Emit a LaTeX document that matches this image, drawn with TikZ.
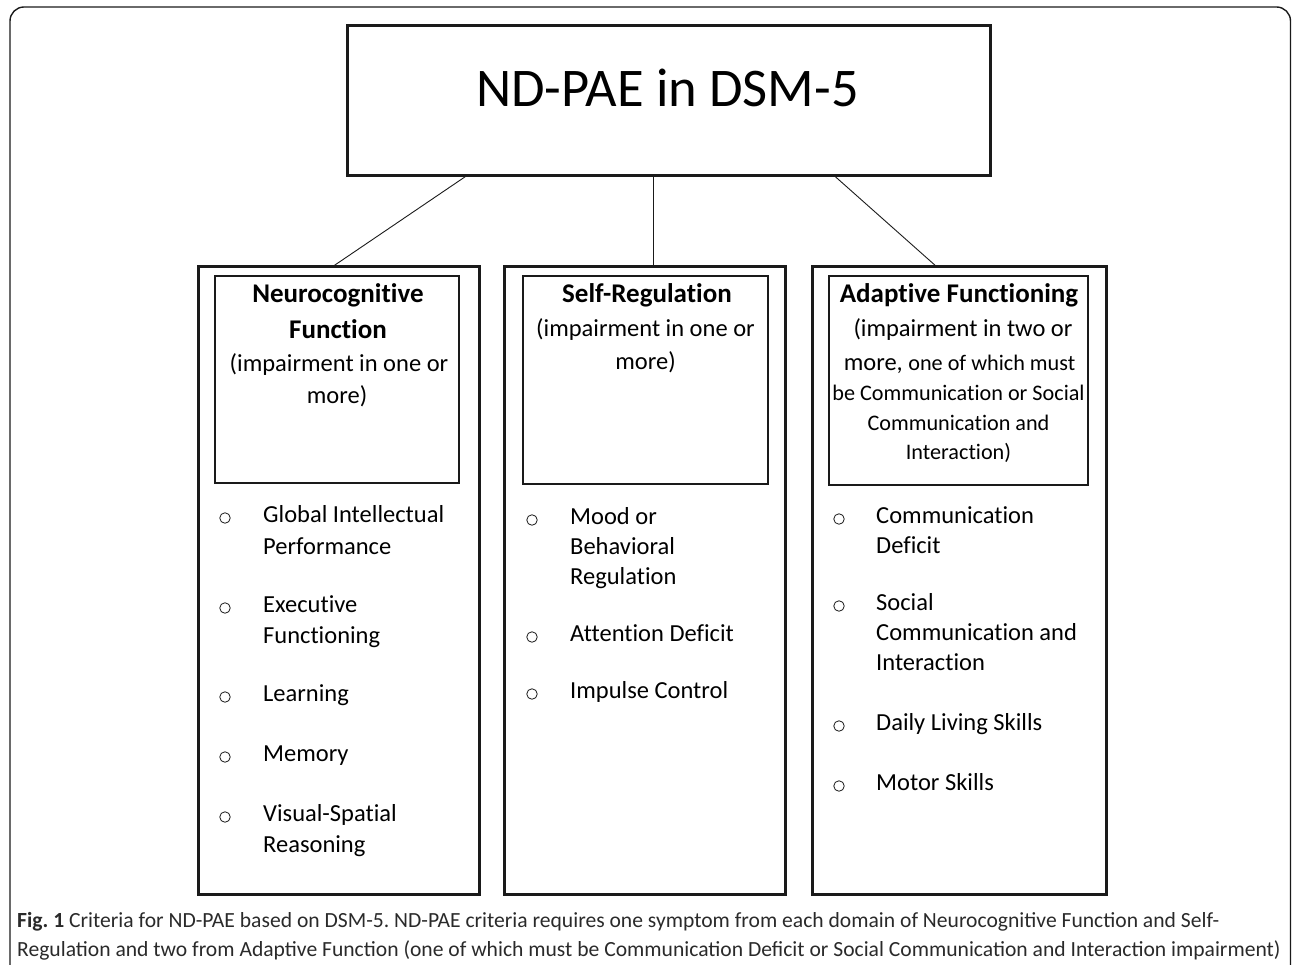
\documentclass[tikz,border=0pt]{standalone}
\usepackage{fontspec}
\setmainfont[Ligatures={NoCommon}]{Carlito}
\newfontfamily\capfont{Carlito}
\usetikzlibrary{calc}
\definecolor{linec}{HTML}{1A1A1A}
\definecolor{capc}{HTML}{2A2A2A}
\frenchspacing
\begin{document}
\begin{tikzpicture}[x=1pt,y=-1pt,
  frame/.style={draw=linec,line width=1.4pt,rounded corners=14pt},
  topbox/.style={draw=linec,line width=3pt,inner sep=0pt,outer sep=0pt,anchor=north west},
  colbox/.style={draw=linec,line width=3pt,inner sep=0pt,outer sep=0pt,anchor=north west},
  headbox/.style={draw=linec,line width=2pt,inner sep=0pt,outer sep=0pt,anchor=north west},
  conn/.style={draw=linec,line width=0.9pt},
  titletxt/.style={inner sep=0pt,anchor=base,font=\fontsize{54.5}{60}\selectfont},
  headtxt/.style={inner sep=0pt,anchor=base,font=\fontsize{27}{32}\selectfont\bfseries},
  subtxt/.style={inner sep=0pt,anchor=base,font=\fontsize{24.5}{30}\selectfont},
  subsmall/.style={inner sep=0pt,anchor=base,font=\fontsize{22.2}{27}\selectfont},
  itemtxt/.style={inner sep=0pt,anchor=base west,font=\fontsize{24.5}{30}\selectfont},
  bulletc/.style={circle,draw=linec,line width=0.8pt,minimum size=10.5pt,inner sep=0pt},
  captxt/.style={inner sep=0pt,anchor=base west,text=capc,font=\capfont\fontsize{21.6}{26}\selectfont}
]
\useasboundingbox (0,0) rectangle (1292,965);
% outer frame (open at the bottom)
\draw[frame] (10,966) -- (10,7) -- (1290.5,7) -- (1290.5,966);

% boxes
\node[topbox,minimum width=642.5pt,minimum height=150pt] (top) at (347.5,25.5) {};
\node[colbox,minimum width=280.5pt,minimum height=627pt] (colA) at (198.5,267) {};
\node[colbox,minimum width=281pt,minimum height=627pt] (colB) at (504,267) {};
\node[colbox,minimum width=294pt,minimum height=627pt] (colC) at (812,267) {};
\node[headbox,minimum width=244.5pt,minimum height=207pt] (headA) at (214.5,276) {};
\node[headbox,minimum width=245pt,minimum height=208pt] (headB) at (523,276) {};
\node[headbox,minimum width=259pt,minimum height=209pt] (headC) at (829,276) {};

% connectors
\draw[conn] ([xshift=119.5pt]top.south west) -- ([xshift=133.5pt]colA.north west);
\draw[conn] ([xshift=305.8pt]top.south west) -- ([xshift=149.3pt]colB.north west);
\draw[conn] ([xshift=486.5pt]top.south west) -- ([xshift=125pt]colC.north west);

% title
\node[titletxt] (ttl) at (667.5,107) {ND-PAE in DSM-5};

% header A
\node[headtxt] (hA1) at (338,303) {Neurocognitive};
\node[headtxt] (hA2) at (338,338) {Function};
\node[subtxt] (hA3) at (339,371) {(impairment in one or};
\node[subtxt] (hA4) at (337,403) {more)};
% header B
\node[headtxt] (hB1) at (647,303) {Self-Regulation};
\node[subtxt] (hB2) at (645.5,337) {(impairment in one or};
\node[subtxt] (hB3) at (645.5,369) {more)};
% header C
\node[headtxt] (hC1) at (959,303) {Adaptive Functioning};
\node[subtxt] (hC2) at (963,337) {(impairment in two or};
\node[subtxt] (hC3) at (959.5,370) {more, {\fontsize{22.2}{27}\selectfont one of which must}};
\node[subsmall] (hC4) at (958.5,400) {be Communication or Social};
\node[subsmall] (hC5) at (958.5,430) {Communication and};
\node[subsmall] (hC6) at (958.5,459) {Interaction)};

% items A
\node[bulletc] (bA1) at (225,518) {};
\node[itemtxt] (iA1) at (263,522) {Global Intellectual};
\node[itemtxt] (iA1b) at (263,554) {Performance};
\node[bulletc] (bA2) at (225,608) {};
\node[itemtxt] (iA2) at (263,612) {Executive};
\node[itemtxt] (iA2b) at (263,643) {Functioning};
\node[bulletc] (bA3) at (225,697) {};
\node[itemtxt] (iA3) at (263,701) {Learning};
\node[bulletc] (bA4) at (225,757) {};
\node[itemtxt] (iA4) at (263,761) {Memory};
\node[bulletc] (bA5) at (225,817) {};
\node[itemtxt] (iA5) at (263,821) {Visual-Spatial};
\node[itemtxt] (iA5b) at (263,852) {Reasoning};

% items B
\node[bulletc] (bB1) at (532,520) {};
\node[itemtxt] (iB1) at (570,524) {Mood or};
\node[itemtxt] (iB1b) at (570,554) {Behavioral};
\node[itemtxt] (iB1c) at (570,584) {Regulation};
\node[bulletc] (bB2) at (532,637) {};
\node[itemtxt] (iB2) at (570,641) {Attention Deficit};
\node[bulletc] (bB3) at (532,694) {};
\node[itemtxt] (iB3) at (570,698) {Impulse Control};

% items C
\node[bulletc] (bC1) at (839,519) {};
\node[itemtxt] (iC1) at (876,523) {Communication};
\node[itemtxt] (iC1b) at (876,553) {Deficit};
\node[bulletc] (bC2) at (839,606) {};
\node[itemtxt] (iC2) at (876,610) {Social};
\node[itemtxt] (iC2b) at (876,640) {Communication and};
\node[itemtxt] (iC2c) at (876,670) {Interaction};
\node[bulletc] (bC3) at (839,726) {};
\node[itemtxt] (iC3) at (876,730) {Daily Living Skills};
\node[bulletc] (bC4) at (839,786) {};
\node[itemtxt] (iC4) at (876,790) {Motor Skills};

% caption
\node[captxt] (cap1) at (17,927) {\textbf{Fig. 1} Criteria for ND-PAE based on DSM-5. ND-PAE criteria requires one symptom from each domain of Neurocognitive Function and Self-};
\node[captxt] (cap2) at (17,956) {Regulation and two from Adaptive Function (one of which must be Communication Deficit or Social Communication and Interaction impairment)};
\end{tikzpicture}
\end{document}
